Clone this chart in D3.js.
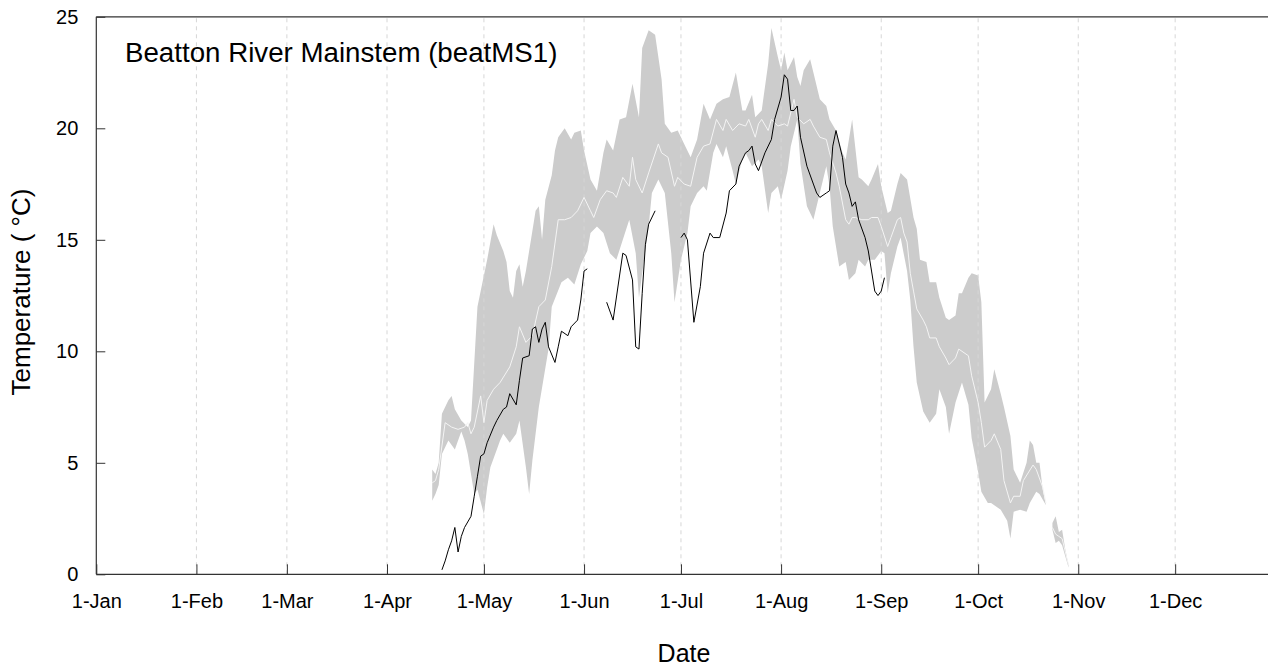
<!DOCTYPE html>
<html><head><meta charset="utf-8">
<script src="https://cdn.jsdelivr.net/npm/d3@7"></script>
<style>
body{margin:0;background:#fff}
svg{display:block}
text{font-family:"Liberation Sans",Arial,Helvetica,sans-serif;fill:#000}
</style>
</head><body>
<svg id="chart" width="1268" height="667"></svg>
<script>
// ---------- data (day index: 0 = 1-Jan) ----------
const chartTitle = "Beatton River Mainstem (beatMS1)";
const xTitle = "Date";
const yTitle = "Temperature ( \u00B0C)";
const yTickValues = [0, 5, 10, 15, 20, 25];
const monthLabels = ["1-Jan","1-Feb","1-Mar","1-Apr","1-May","1-Jun","1-Jul","1-Aug","1-Sep","1-Oct","1-Nov","1-Dec"];

// historical range band (upper / lower envelope), part 1
const upperDays = [104,105,106,107,109,110,111,113,115,116,118,119,121,123,124,126,127,128,129,130,131,132,133,135,136,137,138,139,141,142,143,145,147,148,150,151,153,155,157,158,160,162,164,166,168,169,171,173,175,176,178,180,182,184,186,188,190,192,194,196,198,200,201,203,204,206,208,209,211,212,213,214,216,217,218,219,221,222,224,226,227,229,231,232,234,236,237,239,240,242,243,245,246,248,249,251,253,254,255,257,258,260,261,263,264,266,267,268,270,271,273,274,275,277,278,280,281,283,284,286,288,289,290,291,292,293,294];
const upperVals = [4.7,4.5,5.0,7.2,7.8,8.0,7.4,6.9,6.6,6.9,12.0,12.7,14.1,15.7,15.2,14.5,14.0,12.7,12.4,13.6,13.9,12.9,13.6,15.4,16.3,16.5,15.0,16.8,17.9,19.0,19.6,20.0,19.5,19.8,19.9,19.0,17.7,17.2,18.9,19.5,19.0,20.4,20.5,22.0,20.5,23.6,24.4,24.2,22.2,20.2,19.8,19.9,19.3,18.7,19.5,21.1,20.4,21.1,21.3,21.4,22.5,20.8,20.8,21.5,20.5,20.8,22.9,24.5,23.2,22.6,23.4,22.6,23.2,22.3,21.9,22.6,23.1,22.5,21.3,21.0,20.4,19.9,18.9,18.6,20.4,17.8,17.7,17.4,17.7,18.4,17.4,16.2,16.3,17.5,18.0,17.7,16.0,15.5,14.1,14.0,13.1,13.1,12.4,11.5,11.4,11.6,12.6,12.6,13.3,13.5,13.4,12.2,7.7,8.3,9.2,8.1,7.5,6.2,4.7,4.1,5.0,6.0,5.8,5.0,5.0,3.8,3.1];
const lowerDays = [104,105,106,107,109,110,111,113,114,115,117,118,120,121,122,124,125,126,128,130,131,133,134,135,137,140,141,144,146,148,150,152,153,155,157,159,161,163,165,167,168,169,171,172,174,176,178,179,181,183,184,186,188,189,191,192,194,195,197,198,200,201,203,205,206,208,209,211,212,214,215,217,218,220,222,223,225,226,227,228,230,232,233,235,236,238,239,241,243,244,245,246,248,249,251,252,253,254,256,258,260,261,263,264,266,268,270,271,273,274,276,277,279,280,282,283,284,286,288,289,291,292,294];
const lowerVals = [3.3,3.6,4.0,5.4,6.0,5.8,5.6,6.4,6.0,5.4,3.6,3.8,2.7,3.9,4.8,5.6,6.0,6.3,5.9,6.3,6.9,4.8,3.6,5.1,7.5,10.1,12.0,13.1,13.3,13.0,13.9,14.5,15.3,15.6,15.3,14.4,14.1,15.0,15.9,14.4,12.4,13.5,15.6,17.1,17.7,17.1,14.4,12.2,14.1,15.3,16.5,17.1,17.4,17.2,18.9,19.3,18.7,19.2,18.1,17.5,18.6,18.9,18.3,18.6,18.3,16.2,17.1,17.4,16.8,18.1,19.2,20.4,18.4,16.5,15.9,16.5,17.7,18.3,17.4,15.6,13.8,14.0,13.2,13.5,14.1,13.8,14.1,14.1,14.5,14.4,12.6,13.5,14.7,15.1,13.6,12.3,10.2,8.6,7.3,6.8,7.2,8.3,7.5,6.3,7.7,8.6,7.6,6.1,4.6,3.7,3.2,3.2,3.0,2.9,2.4,1.6,2.8,2.9,2.8,3.2,3.7,3.6,3.1];
// historical median, part 1
const medianDays = [104,105,106,108,110,112,114,115,116,117,119,120,121,123,125,128,130,131,133,135,137,139,141,143,145,147,149,151,153,154,156,158,160,161,163,165,166,167,169,171,174,175,177,179,180,182,184,186,188,190,192,194,195,197,199,201,202,204,205,206,208,209,211,213,214,216,217,219,221,222,224,226,227,229,230,232,233,234,235,237,239,240,242,243,245,246,248,249,250,251,252,253,254,256,257,258,260,261,263,264,266,267,270,271,273,274,275,277,278,280,281,283,284,286,287,290,291,293,294];
const medianVals = [4.1,4.2,4.7,6.8,6.6,6.5,6.6,6.8,6.3,6.6,8.0,6.8,7.8,8.3,8.6,9.3,10.2,11.1,10.4,10.7,12.0,12.3,13.8,15.9,15.9,16.0,16.3,16.9,16.3,16.0,16.8,17.2,17.1,16.9,17.8,17.4,18.7,17.7,17.1,18.0,19.3,18.9,18.7,17.4,17.8,17.5,17.4,18.7,19.2,19.3,20.4,19.9,20.4,19.9,20.2,20.1,20.4,19.6,20.2,20.4,19.9,20.4,20.1,20.2,20.1,21.3,20.5,20.2,20.4,20.1,19.6,19.5,18.9,18.0,17.4,15.9,15.7,16.0,16.0,15.9,15.9,16.0,16.0,15.6,14.7,15.1,15.9,16.0,15.3,14.9,13.5,12.7,11.9,11.4,11.1,10.6,10.6,10.2,9.7,9.4,9.7,10.1,9.8,8.9,7.7,6.8,5.7,6.0,6.3,5.6,4.2,3.2,3.5,3.5,4.2,4.9,4.7,3.9,3.2];

// part 2 (late October fragment)
const lateDays = [296,297,298,299,300,301];
const lateUpper = [2.3,2.6,1.9,2.0,1.1,0.4];
const lateLower = [2.0,1.4,1.5,1.3,0.8,0.3];
const lateMedian = [2.1,1.8,1.7,1.6,1.0,0.4];

// observed daily temperature for the year (null = gap)
const obsDays = [107,108,109,110,111,112,113,114,116,117,118,119,120,121,123,124,126,127,128,130,131,132,134,135,136,137,138,139,140,142,143,144,146,147,149,150,151,152,
  155,
  158,160,163,164,166,167,168,169,170,171,173,
  177,
  181,182,183,185,187,188,190,191,193,195,196,198,199,201,202,203,204,205,207,209,210,212,213,214,215,216,217,218,220,222,223,224,226,227,228,229,231,232,233,234,235,236,238,239,240,241,242,243,244];
const obsVals = [0.2,0.6,1.1,1.5,2.1,1.0,1.7,2.1,2.6,3.5,4.4,5.3,5.4,5.9,6.6,6.9,7.4,7.5,8.1,7.6,8.7,9.7,9.8,11.0,11.1,10.4,11.0,11.3,10.2,9.5,10.2,10.9,10.7,11.1,11.4,12.3,13.6,13.7,
  null,
  12.2,11.4,14.4,14.3,13.2,10.2,10.1,12.6,14.8,15.7,16.3,
  null,
  15.1,15.3,15.0,11.3,12.9,14.4,15.3,15.1,15.1,16.2,17.2,17.5,18.3,18.9,19.0,19.2,18.4,18.1,18.9,19.5,20.4,21.4,22.4,22.2,20.8,20.8,21.0,19.6,18.3,17.5,17.1,16.9,17.1,17.2,19.2,19.9,18.7,17.5,17.1,16.5,16.7,15.9,15.1,14.5,13.6,12.7,12.5,12.7,13.3];

// ---------- chart ----------
const svg = d3.select("#chart");
const dayToDate = d => new Date(Date.UTC(2015, 0, 1 + d));
const x = d3.scaleUtc()
  .domain([dayToDate(0), dayToDate(365)])
  .range([96.3, 1275.3]);
const y = d3.scaleLinear().domain([0, 25]).range([574.3, 16.8]);
const monthDates = d3.utcMonths(dayToDate(0), dayToDate(335));

const zip = (a, b) => a.map((d, i) => [d, b[i]]);
const line = d3.line()
  .defined(d => d[1] !== null)
  .x(d => x(dayToDate(d[0])))
  .y(d => y(d[1]));

// band polygons
function band(days1, up, days2, lo) {
  const pts = zip(days1, up).concat(zip(days2, lo).reverse());
  return line(pts) + "Z";
}
svg.append("path").attr("d", band(upperDays, upperVals, lowerDays, lowerVals))
  .attr("fill", "#cccccc").attr("stroke", "none");
svg.append("path").attr("d", band(lateDays, lateUpper, lateDays, lateLower))
  .attr("fill", "#cccccc").attr("stroke", "none");

// vertical dashed grid lines
svg.append("g").selectAll("line").data(monthDates.slice(1)).join("line")
  .attr("x1", d => x(d)).attr("x2", d => x(d))
  .attr("y1", y(0)).attr("y2", y(25))
  .attr("stroke", "#d6d6d6").attr("stroke-width", 1)
  .attr("stroke-dasharray", "4,4");

// median lines
svg.append("path").attr("d", line(zip(medianDays, medianVals)))
  .attr("fill", "none").attr("stroke", "#f4f4f4").attr("stroke-width", 1);
svg.append("path").attr("d", line(zip(lateDays, lateMedian)))
  .attr("fill", "none").attr("stroke", "#f4f4f4").attr("stroke-width", 1);

// observed line
svg.append("path").attr("d", line(zip(obsDays, obsVals)))
  .attr("fill", "none").attr("stroke", "#000").attr("stroke-width", 1)
  .attr("stroke-linejoin", "round");

// axes
const xAxis = d3.axisBottom(x).tickValues(monthDates)
  .tickFormat((d, i) => monthLabels[i]).tickSize(-10).tickPadding(20);
const gx = svg.append("g").attr("transform", `translate(0,${y(0)})`).call(xAxis);
gx.select(".domain").remove();
gx.selectAll(".tick line").attr("stroke", "#333");
gx.selectAll("text").attr("font-size", 20).attr("fill", "#000")
  .style("font-family", '"Liberation Sans",Arial,sans-serif');

const yAxis = d3.axisLeft(y).tickValues(yTickValues).tickSize(-9).tickPadding(18);
const gy = svg.append("g").attr("transform", `translate(${x(dayToDate(0))},0)`).call(yAxis);
gy.select(".domain").remove();
gy.selectAll(".tick line").attr("stroke", "#333");
gy.selectAll("text").attr("font-size", 20).attr("fill", "#000")
  .style("font-family", '"Liberation Sans",Arial,sans-serif');

// frame lines
const left = x(dayToDate(0));
svg.append("line").attr("x1", left).attr("x2", 1268).attr("y1", y(0)).attr("y2", y(0))
  .attr("stroke", "#333").attr("stroke-width", 1.2);
svg.append("line").attr("x1", left).attr("x2", 1268).attr("y1", y(25)).attr("y2", y(25))
  .attr("stroke", "#333").attr("stroke-width", 1.2);
svg.append("line").attr("x1", left).attr("x2", left).attr("y1", y(0)).attr("y2", y(25))
  .attr("stroke", "#333").attr("stroke-width", 1.2);

// titles
svg.append("text").attr("x", 125).attr("y", 62).attr("font-size", 27.7).text(chartTitle);
svg.append("text").attr("x", 684).attr("y", 662).attr("text-anchor", "middle")
  .attr("font-size", 25).text(xTitle);
svg.append("text").attr("transform", "translate(30,292) rotate(-90)")
  .attr("text-anchor", "middle").attr("font-size", 26).text(yTitle);
</script>
</body></html>
